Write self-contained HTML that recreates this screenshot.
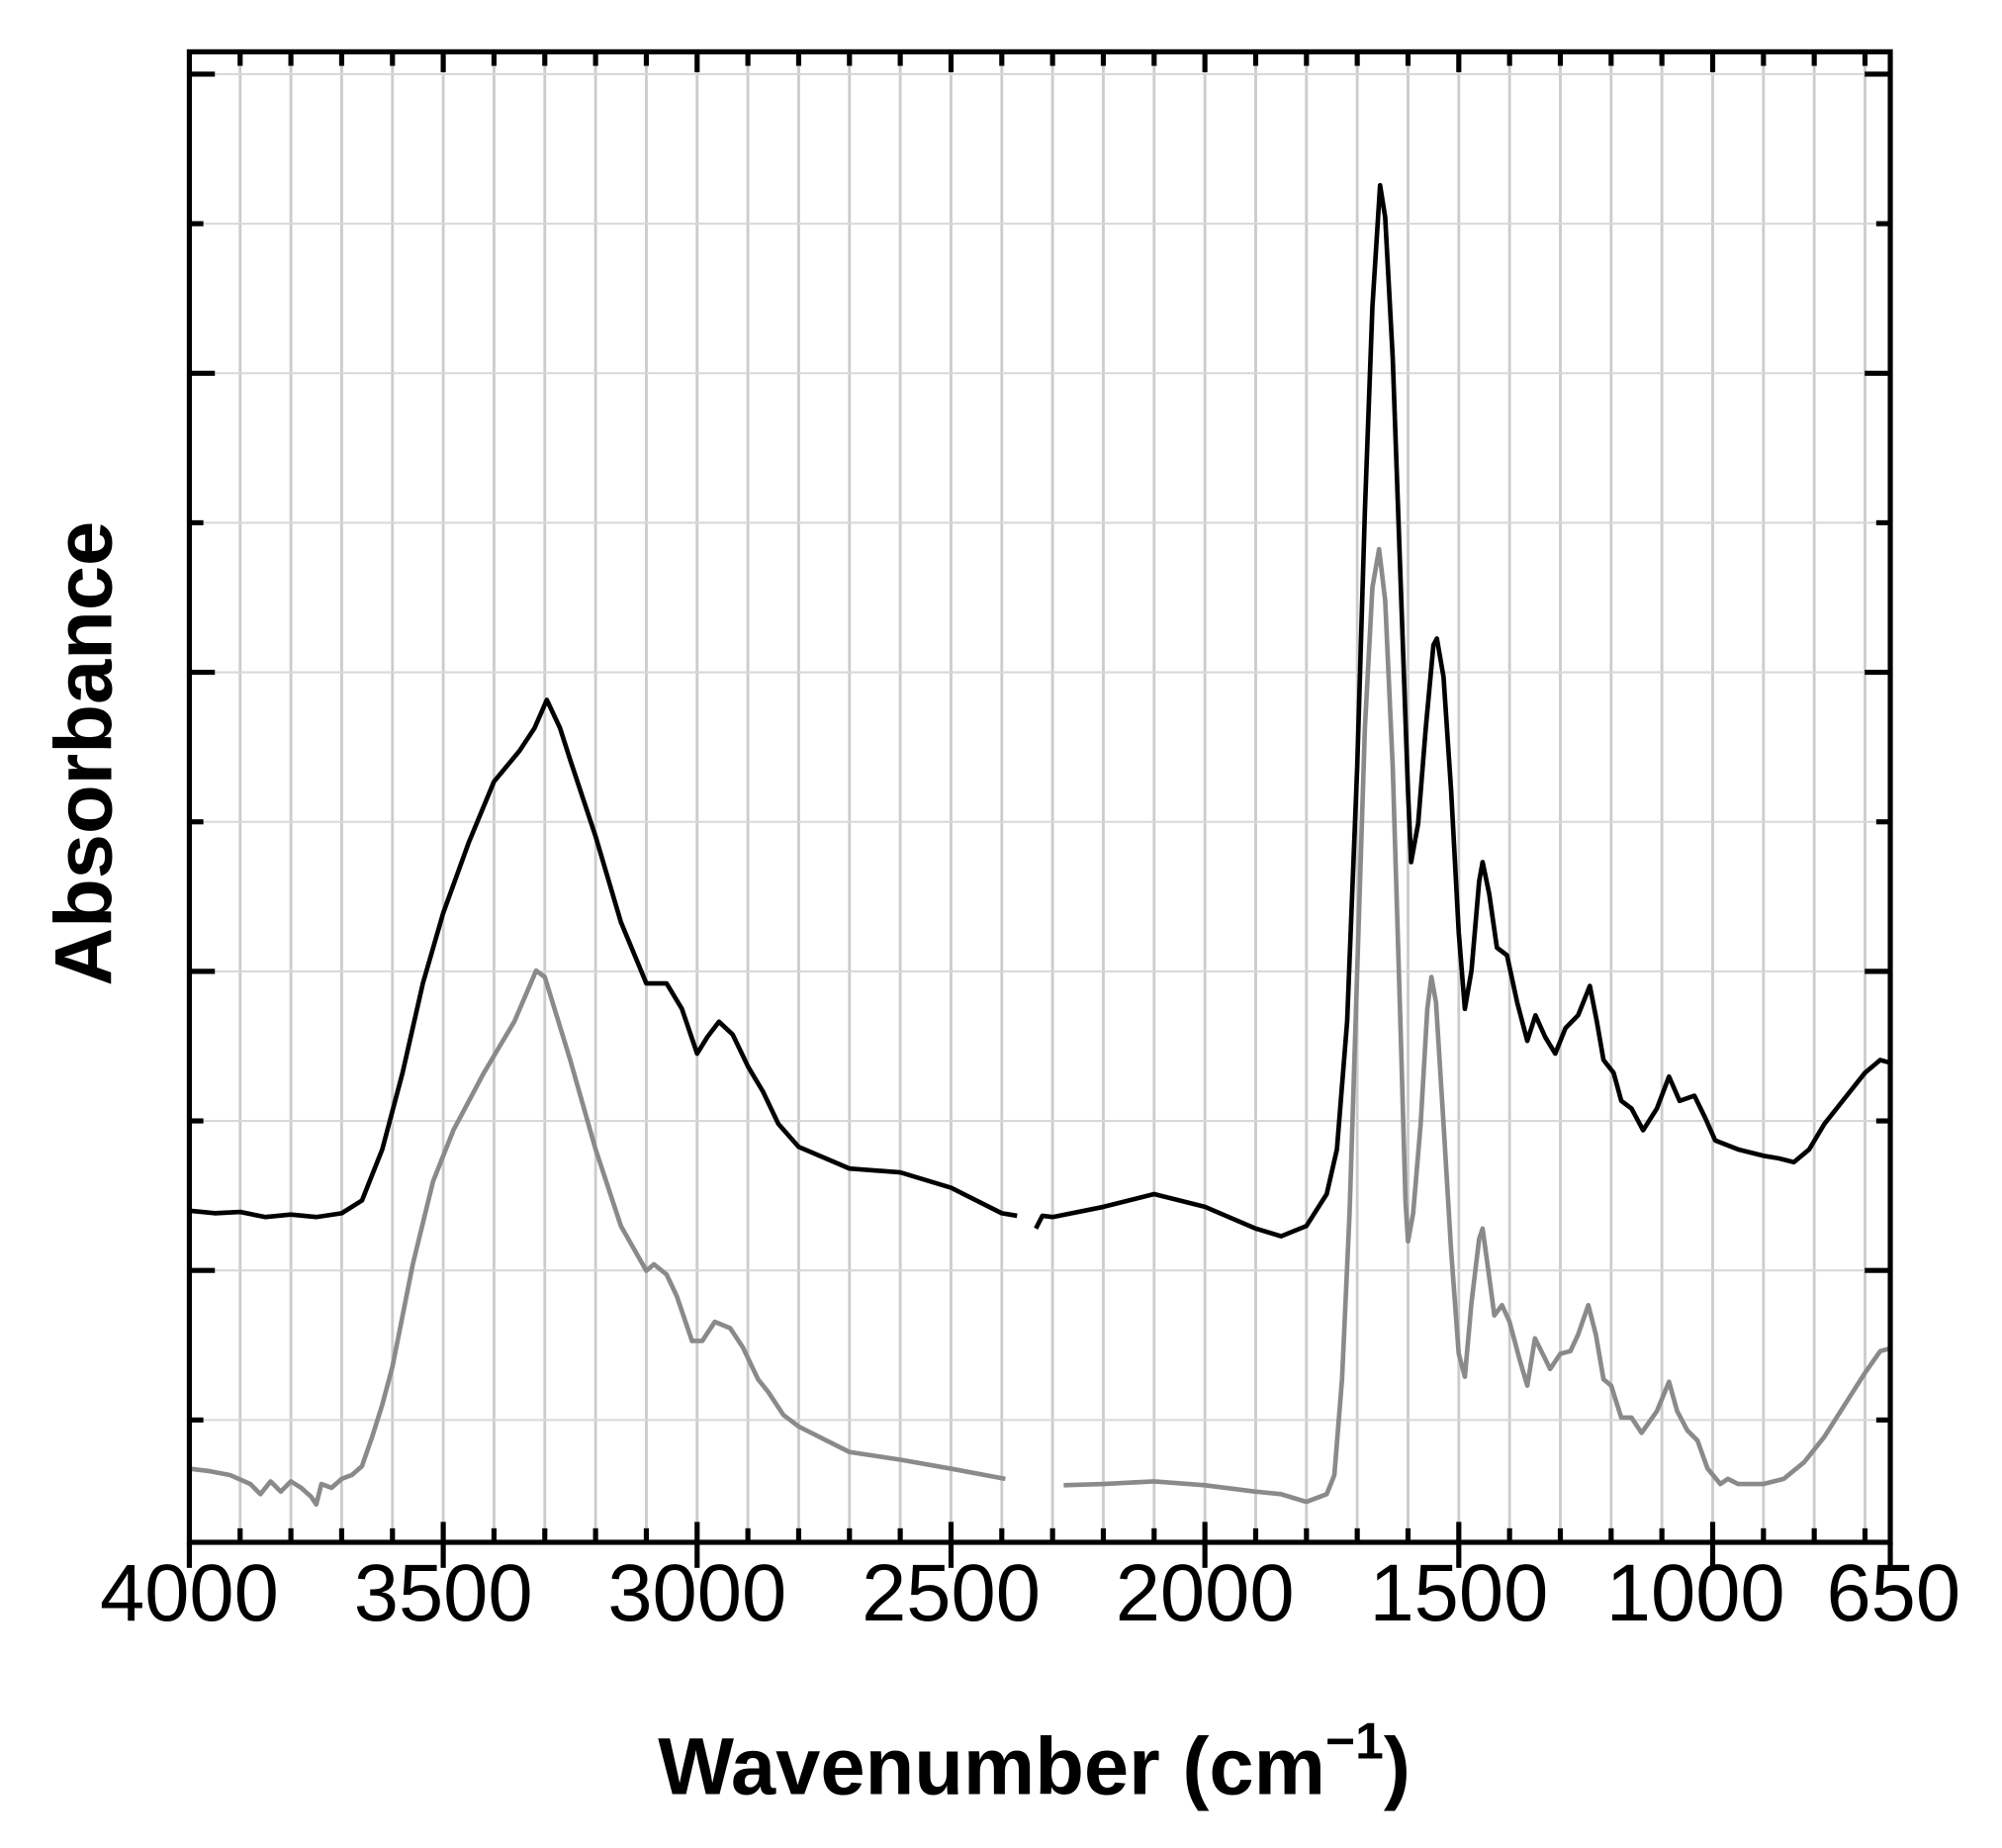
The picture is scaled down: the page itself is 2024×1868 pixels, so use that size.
<!DOCTYPE html>
<html><head><meta charset="utf-8"><style>
html,body{margin:0;padding:0;background:#fff;}
svg{display:block;}
text{font-family:"Liberation Sans",Arial,sans-serif;}
</style></head><body>
<svg id="s" width="2024" height="1868" viewBox="0 0 1568 1447" xmlns="http://www.w3.org/2000/svg">
<rect width="1568" height="1447" fill="#fff"/>
<g id="grid"></g>
<g id="curves"></g>
<rect x="148.3" y="40.5" width="1332.2" height="1167.2" fill="none" stroke="#000" stroke-width="4"/>
<g id="ticks" stroke="#000" stroke-width="4"></g>
<g font-size="63" text-anchor="middle" fill="#000">
<text x="148.3" y="1269">4000</text>
<text x="347.2" y="1269">3500</text>
<text x="546" y="1269">3000</text>
<text x="744.9" y="1269">2500</text>
<text x="943.7" y="1269">2000</text>
<text x="1142.6" y="1269">1500</text>
<text x="1328" y="1269">1000</text>
<text x="1483" y="1269">650</text>
</g>
<text x="810" y="1405" font-size="63" font-weight="bold" text-anchor="middle">Wavenumber (cm<tspan font-size="40" dy="-28">−1</tspan><tspan dy="28">)</tspan></text>
<text transform="translate(87,590) rotate(-90)" font-size="63" font-weight="bold" text-anchor="middle">Absorbance</text>
</svg>
<script>
const NS="http://www.w3.org/2000/svg";
const L=148.3,R=1480.5,T=40.5,B=1207.7;
const X=w=>L+(4000-w)*0.3977;
function el(p,t,a){const e=document.createElementNS(NS,t);for(const k in a)e.setAttribute(k,a[k]);document.getElementById(p).appendChild(e);}
for(let w=3900;w>=700;w-=100){el('grid','line',{x1:X(w),x2:X(w),y1:T,y2:B,stroke:'#cccccc','stroke-width':2.2});}
for(let i=0;i<10;i++){const y=58+i*117.1;el('grid','line',{x1:L,x2:R,y1:y,y2:y,stroke:'#d8d8d8','stroke-width':1.6});}
for(let w=3900;w>=700;w-=100){const maj=w%500==0;const l=maj?16:11;el('ticks','line',{x1:X(w),x2:X(w),y1:B,y2:B-l});el('ticks','line',{x1:X(w),x2:X(w),y1:T,y2:T+l});}
el('ticks','line',{x1:L,x2:L,y1:B,y2:B+20});
for(const w of [3500,3000,2500,2000,1500,1000])el('ticks','line',{x1:X(w),x2:X(w),y1:B,y2:B+20});
el('ticks','line',{x1:R,x2:R,y1:B,y2:B+20});
for(let i=0;i<10;i++){const y=58+i*117.1;const l=(i%2==0)?20:11;el('ticks','line',{x1:L,x2:L+l,y1:y,y2:y});el('ticks','line',{x1:R,x2:R-l,y1:y,y2:y});}
function path(pts,col){let d='';pts.forEach((p,i)=>{d+=(i?'L':'M')+X(p[0]).toFixed(1)+' '+p[1]+' ';});el('curves','path',{d:d,fill:'none',stroke:col,'stroke-width':3.6,'stroke-linejoin':'round'});}
const b1=[[4000,948],[3950,950],[3900,949],[3850,953],[3800,951],[3750,953],[3700,950],[3660,940],[3620,900],[3580,840],[3540,770],[3500,715],[3450,660],[3400,612],[3350,588],[3320,570],[3296,548],[3270,570],[3250,595],[3200,655],[3150,722],[3100,770],[3060,770],[3030,790],[3000,825],[2980,812],[2957,800],[2930,810],[2900,835],[2870,855],[2840,880],[2800,898],[2700,915],[2600,918],[2500,930],[2400,950],[2370,952]];
const b2=[[2333,962],[2320,952],[2300,953],[2200,945],[2100,935],[2000,945],[1900,962],[1850,968],[1800,960],[1760,935],[1740,900],[1720,800],[1700,600],[1685,400],[1670,240],[1655,145],[1645,170],[1630,280],[1615,450],[1600,620],[1594,675],[1580,645],[1565,570],[1550,505],[1543,500],[1530,530],[1515,620],[1500,730],[1488,790],[1475,760],[1460,690],[1453,675],[1440,700],[1425,742],[1405,748],[1385,785],[1365,815],[1349,795],[1330,812],[1310,825],[1290,805],[1265,795],[1242,772],[1228,800],[1215,830],[1195,840],[1180,862],[1160,868],[1137,885],[1110,868],[1086,843],[1065,862],[1036,858],[1015,875],[995,893],[950,900],[900,905],[870,907],[840,910],[810,900],[780,880],[740,860],[700,840],[670,830],[652,832]];
const g1=[[4000,1150],[3960,1152],[3920,1155],[3880,1162],[3860,1170],[3840,1160],[3820,1168],[3800,1160],[3780,1165],[3760,1172],[3750,1178],[3740,1162],[3720,1165],[3700,1158],[3680,1155],[3660,1148],[3640,1125],[3620,1100],[3600,1070],[3560,990],[3520,925],[3480,885],[3420,840],[3360,800],[3317,760],[3300,765],[3250,830],[3200,900],[3150,960],[3100,995],[3085,990],[3060,998],[3040,1015],[3010,1050],[2990,1050],[2965,1035],[2935,1040],[2910,1055],[2880,1080],[2860,1090],[2830,1108],[2800,1117],[2700,1137],[2600,1143],[2500,1150],[2393,1158]];
const g2=[[2278,1163],[2200,1162],[2100,1160],[2000,1163],[1900,1168],[1850,1170],[1800,1176],[1780,1173],[1760,1170],[1745,1155],[1730,1080],[1715,950],[1700,760],[1685,570],[1670,460],[1657,430],[1645,470],[1630,600],[1615,800],[1605,940],[1600,972],[1590,950],[1575,880],[1562,790],[1554,765],[1545,785],[1530,880],[1515,980],[1500,1060],[1488,1078],[1475,1020],[1460,970],[1453,962],[1440,1000],[1430,1030],[1415,1022],[1400,1035],[1380,1065],[1365,1085],[1350,1048],[1335,1060],[1320,1072],[1300,1060],[1280,1058],[1265,1045],[1245,1022],[1230,1045],[1215,1080],[1200,1085],[1180,1110],[1160,1110],[1140,1122],[1110,1105],[1086,1082],[1070,1105],[1050,1120],[1030,1128],[1010,1150],[985,1162],[970,1158],[950,1162],[900,1162],[860,1158],[820,1145],[780,1125],[740,1100],[700,1075],[670,1058],[652,1056]];
path(g1,'#8a8a8a');path(g2,'#8a8a8a');path(b1,'#000');path(b2,'#000');
</script>
</body></html>
